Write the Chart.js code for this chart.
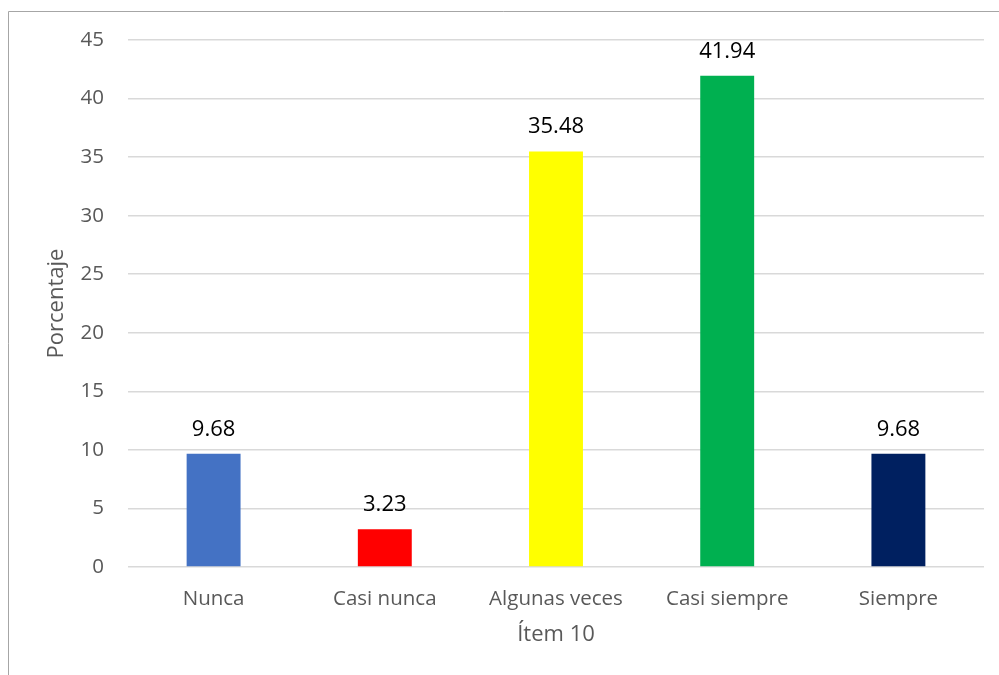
<!DOCTYPE html>
<html>
<head>
<meta charset="utf-8">
<script src="https://cdn.jsdelivr.net/npm/chart.js@4"></script>
<style>
  html, body { margin: 0; padding: 0; background: #fff; }
  #wrap { width: 999px; height: 675px; position: relative; }
</style>
</head>
<body>
<div id="wrap"><canvas id="itemChart"></canvas></div>
<script>
const categories = ["Nunca", "Casi nunca", "Algunas veces", "Casi siempre", "Siempre"];
const percentages = [9.68, 3.23, 35.48, 41.94, 9.68];
const barColors = ["#4472c4", "#ff0000", "#ffff00", "#00b050", "#002060"];
const yTicks = [0, 5, 10, 15, 20, 25, 30, 35, 40, 45];
const xTitle = "Ítem 10";
const yTitle = "Porcentaje";

const FONT = "'Open Sans', 'Liberation Sans', sans-serif";

// thin frame along the top and left edge of the chart box
const framePlugin = {
    id: "frame",
    beforeDraw(chart) {
        const c = chart.ctx;
        c.save();
        c.strokeStyle = "#a6a6a6";
        c.lineWidth = 1;
        c.beginPath();
        c.moveTo(8.5, chart.height);
        c.lineTo(8.5, 11.5);
        c.lineTo(chart.width, 11.5);
        c.stroke();
        c.restore();
    }
};

// axis titles, placed relative to the chart area
const axisTitles = {
    id: "axisTitles",
    afterDraw(chart) {
        const c = chart.ctx;
        const area = chart.chartArea;
        c.save();
        c.fillStyle = "#595959";
        c.font = "22px " + FONT;
        c.textAlign = "center";
        c.textBaseline = "middle";
        c.fillText(xTitle, (area.left + area.right) / 2, area.bottom + 68);
        c.translate(57, (area.top + area.bottom) / 2);
        c.rotate(-Math.PI / 2);
        c.fillText(yTitle, 0, 0);
        c.restore();
    }
};

// value labels above each bar
const valueLabels = {
    id: "valueLabels",
    afterDatasetsDraw(chart) {
        const c = chart.ctx;
        const meta = chart.getDatasetMeta(0);
        c.save();
        c.fillStyle = "#000";
        c.font = "22px " + FONT;
        c.textAlign = "center";
        c.textBaseline = "alphabetic";
        meta.data.forEach((bar, i) => {
            c.fillText(percentages[i].toFixed(2), bar.x, bar.y - 18);
        });
        c.restore();
    }
};

new Chart(document.getElementById("itemChart"), {
    type: "bar",
    data: {
        labels: categories,
        datasets: [{
            data: percentages,
            backgroundColor: barColors,
            categoryPercentage: 1,
            barPercentage: 0.315
        }]
    },
    options: {
        responsive: true,
        maintainAspectRatio: false,
        animation: false,
        layout: { padding: { top: 40, right: 15, left: 0, bottom: 0 } },
        plugins: {
            legend: { display: false },
            tooltip: { enabled: false }
        },
        scales: {
            x: {
                grid: { display: false },
                border: { display: false },
                ticks: { color: "#595959", font: { family: FONT, size: 20.5 }, padding: 12 },
                afterFit(scale) { scale.height = 108; }
            },
            y: {
                min: 0,
                max: 45,
                afterBuildTicks(scale) { scale.ticks = yTicks.map(v => ({ value: v })); },
                grid: { color: "#d9d9d9", lineWidth: 1.5, drawTicks: false },
                border: { display: false },
                ticks: { color: "#595959", font: { family: FONT, size: 20.5 }, padding: 24 },
                afterFit(scale) { scale.width = 128; }
            }
        }
    },
    plugins: [framePlugin, axisTitles, valueLabels]
});
</script>
</body>
</html>
